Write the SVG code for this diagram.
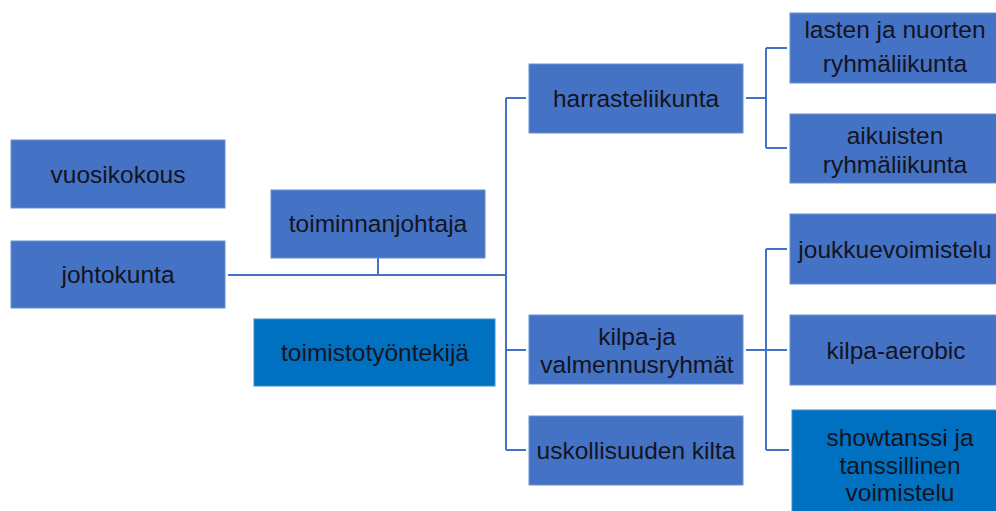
<svg xmlns="http://www.w3.org/2000/svg" width="996" height="511" viewBox="0 0 996 511">
<style>
.b{fill:#4472c4;stroke:#6a8fd0;stroke-width:1}
.d{fill:#0070c0;stroke:#3a8fd0;stroke-width:1}
text{font-family:"Liberation Sans",Arial,sans-serif;font-size:24.5px;fill:#14141e;text-anchor:middle}
.c{fill:none;stroke:#4472c4;stroke-width:2}
</style>
<rect width="996" height="511" fill="#fff"/>
<g id="connectors">
<path class="c" d="M228 275H506M378 258V275"/>
<path class="c" d="M506 98V450M506 98H526M506 350H526M506 450H526"/>
<path class="c" d="M746 98H766M766 48V148M766 48H787M766 148H787"/>
<path class="c" d="M746 350H787M766 249V450M766 249H787M766 450H789"/>
</g>
<g id="vuosikokous"><rect class="b" x="11" y="140" width="214" height="68"/><text x="118" y="183">vuosikokous</text></g>
<g id="johtokunta"><rect class="b" x="11" y="241" width="214" height="67"/><text x="118" y="283">johtokunta</text></g>
<g id="toiminnanjohtaja"><rect class="b" x="271" y="190" width="214" height="68"/><text x="378" y="232">toiminnanjohtaja</text></g>
<g id="toimistotyontekija"><rect class="d" x="254" y="319" width="241" height="67"/><text x="375" y="361">toimistotyöntekijä</text></g>
<g id="harrasteliikunta"><rect class="b" x="529" y="64" width="214" height="69"/><text x="636" y="107">harrasteliikunta</text></g>
<g id="lasten"><rect class="b" x="790" y="13" width="210" height="70"/><text x="895" y="38">lasten ja nuorten</text><text x="895" y="72">ryhmäliikunta</text></g>
<g id="aikuisten"><rect class="b" x="790" y="114" width="210" height="69"/><text x="895" y="144">aikuisten</text><text x="895" y="173">ryhmäliikunta</text></g>
<g id="kilpa"><rect class="b" x="529" y="315" width="214" height="69"/><text x="637" y="345">kilpa-ja</text><text x="637" y="373">valmennusryhmät</text></g>
<g id="uskollisuuden"><rect class="b" x="529" y="416" width="214" height="69"/><text x="636" y="459">uskollisuuden kilta</text></g>
<g id="joukkuevoimistelu"><rect class="b" x="790" y="214" width="210" height="70"/><text x="895" y="258">joukkuevoimistelu</text></g>
<g id="kilpa-aerobic"><rect class="b" x="790" y="315" width="210" height="70"/><text x="896" y="359">kilpa-aerobic</text></g>
<g id="showtanssi"><rect class="d" x="792" y="410" width="210" height="110"/><text x="900" y="446">showtanssi ja</text><text x="900" y="474">tanssillinen</text><text x="900" y="501">voimistelu</text></g>
</svg>
